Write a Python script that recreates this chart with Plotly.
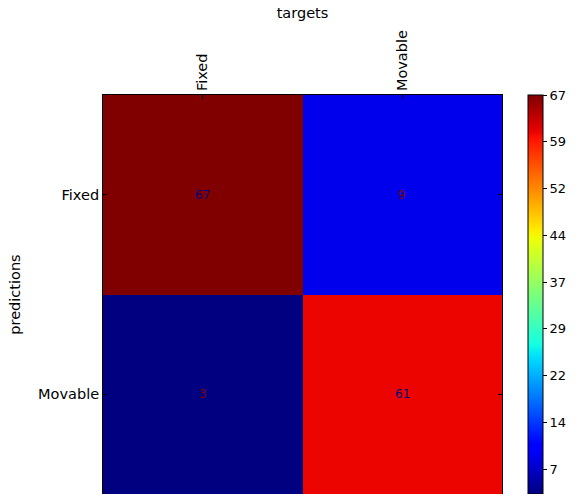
import numpy as np
import plotly.graph_objects as go

targets = ["Fixed", "Movable"]
predictions = ["Fixed", "Movable"]
counts = [[67, 9],
          [3, 61]]
cbar_tickvals = [7, 14.5, 22, 29.5, 37, 44.5, 52, 59.5, 67]
cbar_ticktext = ["7", "14", "22", "29", "37", "44", "52", "59", "67"]

# matplotlib "jet" colormap
_jet = {
    "r": [(0, 0), (0.35, 0), (0.66, 1), (0.89, 1), (1, 0.5)],
    "g": [(0, 0), (0.125, 0), (0.375, 1), (0.64, 1), (0.91, 0), (1, 0)],
    "b": [(0, 0.5), (0.11, 1), (0.34, 1), (0.65, 0), (1, 0)],
}


def jet(t):
    out = []
    for ch in "rgb":
        xs, ys = zip(*_jet[ch])
        out.append(int(round(255 * float(np.interp(t, xs, ys)))))
    return "rgb(%d,%d,%d)" % tuple(out)


stops = np.linspace(0, 1, 65)
colorscale = [[float(s), jet(s)] for s in stops]

zmin = min(min(r) for r in counts)
zmax = max(max(r) for r in counts)

FONT = "DejaVu Sans"

fig = go.Figure(
    go.Heatmap(
        z=counts,
        x=targets,
        y=predictions,
        colorscale=colorscale,
        zmin=zmin,
        zmax=zmax,
        showscale=True,
        xgap=0,
        ygap=0,
        colorbar=dict(
            xref="container",
            x=528 / 579,
            xanchor="left",
            yref="paper",
            y=0,
            yanchor="bottom",
            len=1,
            lenmode="fraction",
            thickness=15,
            thicknessmode="pixels",
            outlinecolor="black",
            outlinewidth=1,
            tickvals=cbar_tickvals,
            ticktext=cbar_ticktext,
            ticks="outside",
            ticklen=4,
            tickcolor="black",
            tickfont=dict(family=FONT, size=13, color="black"),
            xpad=0,
            ypad=0,
        ),
        hoverinfo="skip",
    )
)

annotations = []
for i, p in enumerate(predictions):
    for j, t in enumerate(targets):
        v = counts[i][j]
        norm = (v - zmin) / (zmax - zmin)
        annotations.append(
            dict(
                x=t,
                y=p,
                xref="x",
                yref="y",
                text=str(v),
                showarrow=False,
                font=dict(family=FONT, size=12, color=jet(0.0 if norm > 0.5 else 1.0)),
            )
        )

fig.update_layout(
    width=579,
    height=494,
    margin=dict(l=103, r=77, t=95, b=0),
    paper_bgcolor="white",
    plot_bgcolor="white",
    font=dict(family=FONT, size=14, color="black"),
    annotations=annotations,
    title=dict(
        text="targets",
        x=0.5,
        xref="paper",
        y=1 - 13 / 494,
        yref="container",
        xanchor="center",
        yanchor="middle",
        font=dict(family=FONT, size=14.5, color="black"),
    ),
    xaxis=dict(
        side="top",
        tickangle=-90,
        ticks="inside",
        ticklen=4,
        tickcolor="black",
        showline=True,
        linecolor="black",
        linewidth=1,
        mirror=True,
        showgrid=False,
        zeroline=False,
        tickfont=dict(family=FONT, size=14.5, color="black"),
        constrain="domain",
    ),
    yaxis=dict(
        autorange="reversed",
        ticks="inside",
        ticklen=4,
        tickcolor="black",
        showline=True,
        linecolor="black",
        linewidth=1,
        mirror="ticks",
        showgrid=False,
        zeroline=False,
        tickfont=dict(family=FONT, size=14.5, color="black"),
        title=dict(text="predictions", font=dict(family=FONT, size=14.5, color="black"), standoff=14),
    ),
)

fig.write_html("out.html")
